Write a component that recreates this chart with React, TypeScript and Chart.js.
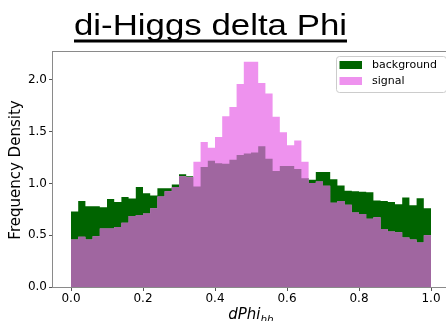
import React, { useEffect, useRef } from "react";
import { Chart, registerables } from "chart.js";

Chart.register(...registerables);

const TITLE = "di-Higgs delta Phi";
const X_TITLE_MAIN = "dPhi";
const X_TITLE_SUB = "hh";
const Y_TITLE = "Frequency Density";
const seriesLabels = ["background", "signal"];

const BIN_WIDTH = 0.02;
const binStarts = Array.from({ length: 50 }, (_, i) => +(i * BIN_WIDTH).toFixed(2));
const X_END = 1.0;

const background = [
  0.73, 0.83, 0.78, 0.78, 0.77, 0.85, 0.82, 0.87, 0.855, 0.965,
  0.905, 0.885, 0.955, 0.955, 0.99, 1.09, 1.07, 0.97, 1.16, 1.22,
  1.195, 1.19, 1.23, 1.275, 1.29, 1.30, 1.36, 1.24, 1.12, 1.17,
  1.17, 1.14, 1.05, 1.035, 1.11, 1.11, 1.04, 0.98, 0.93, 0.925,
  0.92, 0.915, 0.835, 0.83, 0.82, 0.80, 0.865, 0.79, 0.857, 0.76,
];

const signal = [
  0.46, 0.486, 0.46, 0.49, 0.565, 0.565, 0.58, 0.62, 0.685, 0.695,
  0.71, 0.76, 0.875, 0.925, 0.966, 1.07, 1.06, 1.21, 1.40, 1.345,
  1.45, 1.65, 1.74, 1.96, 2.175, 2.175, 1.97, 1.87, 1.645, 1.495,
  1.37, 1.415, 1.21, 1.005, 1.02, 0.977, 0.815, 0.83, 0.795, 0.72,
  0.705, 0.66, 0.673, 0.56, 0.535, 0.53, 0.478, 0.46, 0.43, 0.50,
];

const xTicks = [0.0, 0.2, 0.4, 0.6, 0.8, 1.0];
const yTicks = [0.0, 0.5, 1.0, 1.5, 2.0];

const GREEN = "#006400";
const PINK = "#EE92EE";
const OVERLAP = "#A066A0";

function toSteps(vals: number[]) {
  const pts = binStarts.map((x, i) => ({ x, y: vals[i] }));
  pts.push({ x: X_END, y: vals[vals.length - 1] });
  return pts;
}

const overlapVals = background.map((b, i) => Math.min(b, signal[i]));

const decorPlugin = {
  id: "decor",
  afterDraw(chart: any) {
    const ctx = chart.ctx;
    const a = chart.chartArea;
    ctx.save();
    // frame
    ctx.strokeStyle = "#8a8a8a";
    ctx.lineWidth = 1;
    ctx.strokeRect(a.left - 0.5, a.top + 0.5, a.right - a.left + 1, a.bottom - a.top);

    // title
    ctx.fillStyle = "#000";
    ctx.font = '29px "Liberation Sans", Arial, sans-serif';
    ctx.textBaseline = "alphabetic";
    ctx.textAlign = "left";
    const tw = ctx.measureText(TITLE).width;
    const targetW = 273;
    const tx = 74;
    ctx.save();
    ctx.translate(tx, 35);
    ctx.scale(targetW / tw, 1);
    ctx.fillText(TITLE, 0, 0);
    ctx.restore();
    ctx.fillRect(tx, 39.5, targetW, 3);

    // y title
    ctx.save();
    ctx.font = '15px "DejaVu Sans", sans-serif';
    ctx.textAlign = "center";
    ctx.textBaseline = "middle";
    ctx.translate(16, (a.top + a.bottom) / 2 + 1);
    ctx.rotate(-Math.PI / 2);
    ctx.fillText(Y_TITLE, 0, 0);
    ctx.restore();

    // x title with subscript
    ctx.font = 'italic 15px "DejaVu Sans", sans-serif';
    const w1 = ctx.measureText(X_TITLE_MAIN).width;
    ctx.font = 'italic 10.5px "DejaVu Sans", sans-serif';
    const w2 = ctx.measureText(X_TITLE_SUB).width;
    const cx = (a.left + a.right) / 2;
    const sx = cx - (w1 + w2) / 2;
    ctx.textAlign = "left";
    ctx.textBaseline = "alphabetic";
    ctx.font = 'italic 15px "DejaVu Sans", sans-serif';
    ctx.fillText(X_TITLE_MAIN, sx, 319);
    ctx.font = 'italic 10.5px "DejaVu Sans", sans-serif';
    ctx.fillText(X_TITLE_SUB, sx + w1, 322.5);

    // legend
    const lx = 336, ly = 56, lw = 110, lh = 36;
    ctx.fillStyle = "rgba(255,255,255,0.85)";
    ctx.strokeStyle = "#cccccc";
    ctx.beginPath();
    ctx.roundRect(lx + 0.5, ly + 0.5, lw, lh, 3);
    ctx.fill();
    ctx.stroke();
    const colors = [GREEN, PINK];
    ctx.font = '11px "DejaVu Sans", sans-serif';
    ctx.textBaseline = "middle";
    seriesLabels.forEach((lab, i) => {
      const yy = ly + 5 + i * 16;
      ctx.fillStyle = colors[i];
      ctx.fillRect(lx + 3.5, yy, 22.5, 8);
      ctx.fillStyle = "#000";
      ctx.fillText(lab, lx + 36, yy + 4.5);
    });
    ctx.restore();
  },
};

export default function App() {
  const ref = useRef<HTMLCanvasElement | null>(null);
  useEffect(() => {
    if (!ref.current) return;
    const tickFont = { size: 12, family: '"DejaVu Sans", sans-serif' };
    const chart = new Chart(ref.current, {
      type: "line",
      data: {
        datasets: [
          {
            label: "overlap",
            data: toSteps(overlapVals),
            stepped: "before",
            fill: "origin",
            backgroundColor: OVERLAP,
            borderColor: "transparent",
            borderWidth: 0,
            pointRadius: 0,
            order: 1,
          },
          {
            label: seriesLabels[1],
            data: toSteps(signal),
            stepped: "before",
            fill: "origin",
            backgroundColor: PINK,
            borderColor: "transparent",
            borderWidth: 0,
            pointRadius: 0,
            order: 2,
          },
          {
            label: seriesLabels[0],
            data: toSteps(background),
            stepped: "before",
            fill: "origin",
            backgroundColor: GREEN,
            borderColor: "transparent",
            borderWidth: 0,
            pointRadius: 0,
            order: 3,
          },
        ],
      },
      options: {
        animation: false,
        responsive: false,
        devicePixelRatio: 1,
        layout: { padding: { left: 0, top: 51, right: 11, bottom: 0 } },
        plugins: {
          legend: { display: false },
          title: { display: false },
          tooltip: { enabled: false },
        },
        scales: {
          x: {
            type: "linear",
            min: -0.05,
            max: 1.05,
            afterBuildTicks: (s: any) => {
              s.ticks = xTicks.map((v) => ({ value: v }));
            },
            afterFit: (s: any) => {
              s.height = 34;
            },
            ticks: {
              callback: (v: any) => Number(v).toFixed(1),
              font: tickFont,
              color: "#000",
              padding: 1,
              maxRotation: 0,
              autoSkip: false,
            },
            grid: {
              display: true,
              drawOnChartArea: false,
              drawTicks: true,
              tickLength: 4,
              tickColor: "#555",
              tickWidth: 1,
            },
            border: { display: false },
          },
          y: {
            type: "linear",
            min: 0,
            max: 2.28,
            afterBuildTicks: (s: any) => {
              s.ticks = yTicks.map((v) => ({ value: v }));
            },
            afterFit: (s: any) => {
              s.width = 53;
            },
            ticks: {
              callback: (v: any) => Number(v).toFixed(1),
              font: tickFont,
              color: "#000",
              padding: 2,
              autoSkip: false,
            },
            grid: {
              display: true,
              drawOnChartArea: false,
              drawTicks: true,
              tickLength: 4,
              tickColor: "#555",
              tickWidth: 1,
            },
            border: { display: false },
          },
        },
      },
      plugins: [decorPlugin],
    } as any);
    return () => chart.destroy();
  }, []);

  return (
    <div
      style={{
        position: "absolute",
        left: 0,
        top: 0,
        width: 446,
        height: 321,
        overflow: "hidden",
        background: "#fff",
      }}
    >
      <canvas ref={ref} width={460} height={321} style={{ display: "block", width: 460, height: 321 }} />
    </div>
  );
}
